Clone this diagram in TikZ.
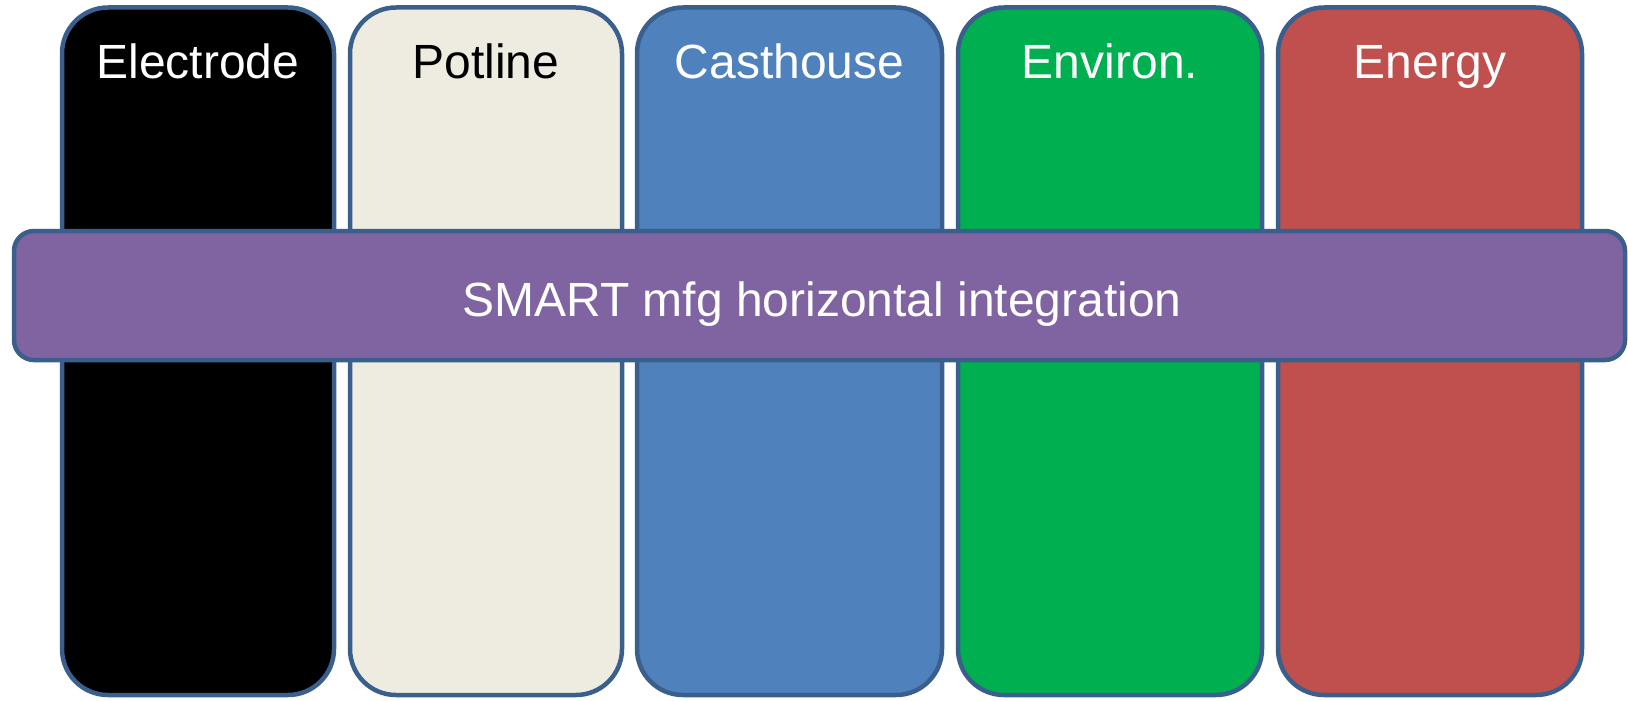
\documentclass[tikz,border=0pt]{standalone}
\usepackage{fontspec}
\setmainfont{Liberation Sans}
\definecolor{edgeblue}{HTML}{3A5F8C}
\definecolor{potcol}{HTML}{EEECE1}
\definecolor{castcol}{HTML}{4F81BD}
\definecolor{envcol}{HTML}{00B050}
\definecolor{energycol}{HTML}{C0504D}
\definecolor{barcol}{HTML}{8064A2}
\tikzset{
  colbox/.style={draw=edgeblue, line width=4.5pt, rounded corners=46pt, minimum height=687.5pt, inner sep=0pt, outer sep=0pt},
  barbox/.style={draw=edgeblue, line width=4.5pt, rounded corners=20pt, fill=barcol, minimum width=1611pt, minimum height=129pt, inner sep=0pt, outer sep=0pt},
  coltext/.style={anchor=base, inner sep=0pt, font=\fontsize{48}{57}\selectfont},
}
\begin{document}
\begin{tikzpicture}[x=1pt,y=-1pt]
\useasboundingbox (0,0) rectangle (1628,701);
\node[colbox, fill=black, minimum width=272pt] (b1) at (198,351.25) {};
\node[colbox, fill=potcol, minimum width=272pt] (b2) at (486,351.25) {};
\node[colbox, fill=castcol, minimum width=305pt] (b3) at (789.5,351.25) {};
\node[colbox, fill=envcol, minimum width=304pt] (b4) at (1110,351.25) {};
\node[colbox, fill=energycol, minimum width=304pt] (b5) at (1430,351.25) {};
\node[coltext, text=white] (t1) at (198,78) {Electrode};
\node[coltext, text=black] (t2) at (486,78) {Potline};
\node[coltext, text=white] (t3) at (789.5,78) {Casthouse};
\node[coltext, text=white] (t4) at (1110,78) {Environ.};
\node[coltext, text=white] (t5) at (1430,78) {Energy};
\node[barbox] (bar) at (819.5,295.5) {};
\node[coltext, text=white] (bt) at (822,316) {SMART mfg horizontal integration};
\end{tikzpicture}
\end{document}
